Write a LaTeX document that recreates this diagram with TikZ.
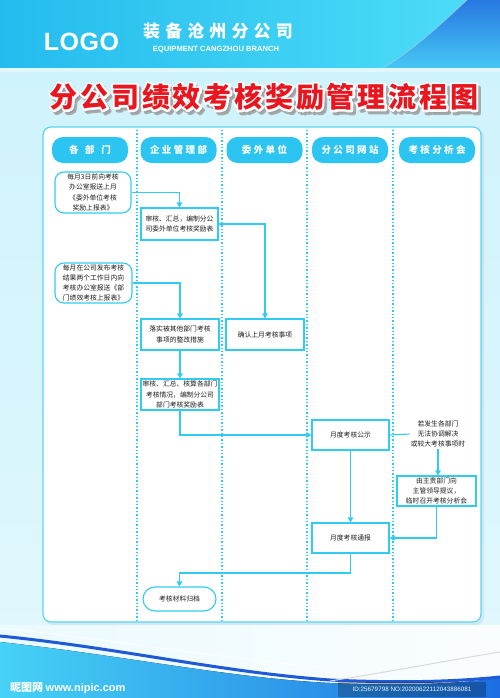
\documentclass[tikz,border=0pt]{standalone}
\usepackage{fontspec}
\setmainfont{Noto Sans CJK SC}
\newfontfamily\latinb{Liberation Sans}
\usetikzlibrary{arrows.meta}
\definecolor{lc}{RGB}{48,204,240}
\definecolor{hdr}{RGB}{44,196,240}
\definecolor{ttl}{RGB}{232,22,30}
\definecolor{txt}{RGB}{30,30,30}
\newcommand{\outlinetext}[2]{\special{pdf:literal direct 2 Tr #1 w 1 J 1 j}#2\special{pdf:literal direct 0 Tr}}
\tikzset{
  box/.style={draw=lc, line width=1.1pt, fill=white, minimum width=78pt, minimum height=31pt,
    inner sep=0.5pt, align=center, font=\fontsize{6.8}{10.2}\selectfont, text=txt},
  rbox/.style={box, rounded corners=9pt},
  hdrpill/.style={fill=hdr, rounded corners=11pt, minimum width=76pt, minimum height=26pt,
    text=white, font=\fontsize{9.5}{11}\selectfont\bfseries\addfontfeature{LetterSpace=25}},
  conn/.style={draw=lc, line width=1.1pt, -{Triangle[width=5.5pt,length=5pt]}},
  plainconn/.style={draw=lc, line width=1.1pt},
  sep/.style={draw=lc, line width=1.6pt, dash pattern=on 1.3pt off 2.1pt},
  ttlfont/.style={font=\bfseries\fontsize{28}{28}\selectfont\addfontfeature{LetterSpace=10}, inner sep=0},
}
\begin{document}
\begin{tikzpicture}[x=1pt,y=-1pt]
\useasboundingbox (0,0) rectangle (500,698);
% ---------- background ----------
\fill[top color={rgb,255:red,205;green,242;blue,252}, bottom color={rgb,255:red,225;green,248;blue,253}] (0,0) rectangle (500,698);
\fill[left color={rgb,255:red,36;green,188;blue,238}, right color={rgb,255:red,80;green,222;blue,248}] (0,0) rectangle (500,68);
\fill[top color={rgb,255:red,40;green,120;blue,225}, bottom color={rgb,255:red,70;green,200;blue,245}]
  (383,68) .. controls (420,45) and (445,20) .. (467,0) -- (500,0) -- (500,68) -- cycle;
\draw[white!70!cyan, line width=0.8pt, opacity=0.7] (383,68) .. controls (420,45) and (445,20) .. (467,0);
\fill[white, opacity=0.35] (0,68) rectangle (500,72);
% bottom waves
\fill[left color={rgb,255:red,235;green,250;blue,254}, right color={rgb,255:red,250;green,253;blue,255}] (0,625) rectangle (500,698);
\fill[left color={rgb,255:red,70;green,210;blue,245}, right color={rgb,255:red,28;green,110;blue,225}]
  (0,642) .. controls (120,655) and (230,678) .. (330,683) .. controls (420,687) and (470,682) .. (500,678) -- (500,698) -- (0,698) -- cycle;
\draw[line width=3pt, color={rgb,255:red,30;green,90;blue,215}]
  (0,636) .. controls (120,648) and (220,672) .. (330,680) .. controls (420,684) and (470,680) .. (500,677);
\draw[line width=1pt, white!70!gray] (330,681) .. controls (400,670) and (450,660) .. (500,652);
\draw[line width=0.8pt, white, opacity=0.8] (0,628) .. controls (120,640) and (230,660) .. (330,668);
% ---------- header texts ----------
\node[font=\latinb\bfseries\fontsize{25}{25}\selectfont\addfontfeature{LetterSpace=2}, text=white, inner sep=0] (logo) at (81.5,42) {LOGO};
\node[font=\bfseries\fontsize{17}{17}\selectfont\addfontfeature{LetterSpace=30}, text=white, inner sep=0] (cname) at (218,31) {装备沧州分公司};
\node[font=\latinb\bfseries\fontsize{7.6}{8}\selectfont, text=white, inner sep=0] (ename) at (216,50) {EQUIPMENT CANGZHOU BRANCH};
% title: shadow, white outline, red fill
\node[ttlfont, text=black!40, opacity=0.8] (ttlshadow) at (266.5,100) {\outlinetext{4}{分公司绩效考核奖励管理流程图}};
\node[ttlfont, text=white] (ttloutline) at (264,97) {\outlinetext{4}{分公司绩效考核奖励管理流程图}};
\node[ttlfont, text=ttl] (title) at (264,97) {分公司绩效考核奖励管理流程图};
% ---------- panel ----------
\fill[black, opacity=0.06, rounded corners=8pt] (45,129) rectangle (484,625);
\draw[draw=lc!80, line width=1.2pt, fill=white, rounded corners=8pt] (43,127) rectangle (481,622);
% separators
\foreach \x in {137,222,307,393}{ \draw[sep] (\x,130) -- (\x,620); }
% lane headers
\node[hdrpill] (h1) at (90,150) {各\hspace{0.7em}部\hspace{0.7em}门};
\node[hdrpill] (h2) at (178.5,150) {企业管理部};
\node[hdrpill] (h3) at (264.5,150) {委外单位};
\node[hdrpill] (h4) at (350,150) {分公司网站};
\node[hdrpill] (h5) at (437,150) {考核分析会};
% ---------- nodes ----------
\node[rbox, minimum width=76pt, minimum height=41pt] (a1) at (93,192.5) {每月3日前向考核\\办公室报送上月\\《委外单位考核\\奖励上报表》};
\node[box, minimum width=77pt, minimum height=32pt] (b1) at (179.5,224) {审核、汇总，编制分公\\司委外单位考核奖励表};
\node[box] (c1) at (265,334.5) {确认上月考核事项};
\node[rbox, minimum width=77pt, minimum height=40pt] (a2) at (93.5,283) {每月在公司发布考核\\结果两个工作日内向\\考核办公室报送《部\\门绩效考核上报表》};
\node[box] (b2) at (180,334.5) {落实被其他部门考核\\事项的整改措施};
\node[box] (b3) at (180,394.5) {审核、汇总、核算各部门\\考核情况，编制分公司\\部门考核奖励表};
\node[box, minimum width=77pt, minimum height=30pt] (d1) at (350.5,435) {月度考核公示};
\node[box, minimum width=77pt, minimum height=30pt] (d2) at (350.5,538) {月度考核通报};
\node[align=center, font=\fontsize{6.8}{10.2}\selectfont, text=txt, inner sep=1pt] (t1) at (438,434) {若发生各部门\\无法协调解决\\或较大考核事项时};
\node[box, minimum width=79pt, minimum height=30pt] (e1) at (436.5,491) {由主责部门向\\主管领导提议，\\临时召开考核分析会};
\node[box, rounded corners=12pt, minimum width=73pt, minimum height=24pt] (f) at (179.5,599) {考核材料归档};
\coordinate (k) at (350.5,573);
% ---------- connectors ----------
\draw[conn] (a1.east) -| (b1.north);
\draw[conn] (b1.east) -| (c1.north);
\draw[conn] (a2.east) -| (b2.north);
\draw[conn] (b2) -- (b3);
\draw[conn] (b3.south) |- (d1.west);
\draw[plainconn] (d1.east) -- (t1.west);
\draw[conn] (t1.south) -- (t1.south |- e1.north);
\draw[conn] (e1.south) |- (d2.east);
\draw[conn] (d1) -- (d2);
\draw[conn] (d2.south) -- (k) -| (f.north);
% ---------- watermark ----------
\node[anchor=west, inner sep=0, text=white, font=\bfseries\fontsize{11}{11}\selectfont] (wm1) at (10,688) {昵图网 {\latinb\bfseries www.nipic.com}};
\fill[black, opacity=0.25] (338,682) rectangle (486,697);
\node[inner sep=0, text=white!90!cyan, font=\latinb\fontsize{6.3}{7}\selectfont] (wm2) at (412,689.5) {ID:25679798 NO:20200622112043886081};
\end{tikzpicture}
\end{document}
